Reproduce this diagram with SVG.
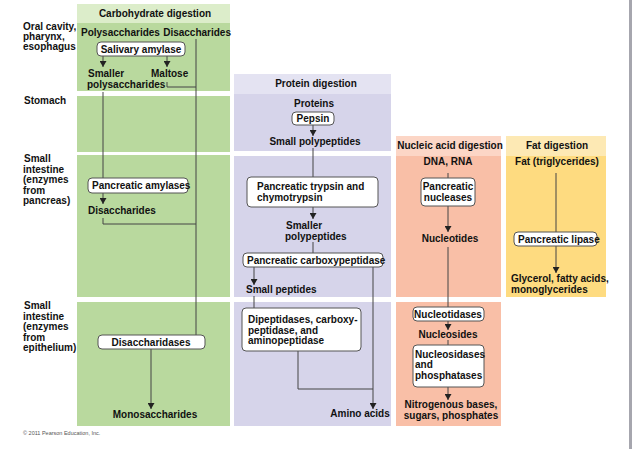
<svg xmlns="http://www.w3.org/2000/svg" width="633" height="449" viewBox="0 0 633 449">
<defs>
<style>
text{font-family:"Liberation Sans",Arial,sans-serif;font-size:10px;font-weight:bold;fill:#111;}
.c{text-anchor:middle;}
.lbl{font-size:10px;}
.box{fill:#fff;stroke:#555;stroke-width:1;}
.ln{fill:none;stroke:#444;stroke-width:1;}
.ar{fill:none;stroke:#444;stroke-width:1;marker-end:url(#ah);}
.gb{fill:#b9d99e;} .gh{fill:#dcedca;}
.pb{fill:#d6d4ea;} .ph{fill:#e4e3f2;}
.nb{fill:#f9bfa7;} .nh{fill:#fcd6c6;}
.fb{fill:#fedb80;} .fh{fill:#fde9b4;}
.copy{font-size:5.5px;font-weight:normal;fill:#555;}
</style>
<marker id="ah" viewBox="0 0 6 7" refX="6" refY="3.5" markerWidth="6" markerHeight="7" markerUnits="userSpaceOnUse" orient="auto">
<path d="M0,0 L6,3.5 L0,7 z" fill="#222"/>
</marker>
</defs>
<rect width="633" height="449" fill="#fff"/>
<rect x="629" y="0" width="3" height="449" fill="#a6a6ae"/>

<g id="columns">
<rect class="gh" x="77" y="4" width="153" height="19"/>
<rect class="gb" x="77" y="23" width="153" height="68"/>
<rect class="gb" x="77" y="96" width="153" height="56"/>
<rect class="gb" x="77" y="155" width="153" height="142"/>
<rect class="gb" x="77" y="302" width="153" height="124"/>
<rect class="ph" x="234" y="74" width="157" height="20"/>
<rect class="pb" x="234" y="94" width="157" height="57"/>
<rect class="pb" x="234" y="156" width="157" height="141"/>
<rect class="pb" x="234" y="302" width="157" height="124"/>
<rect class="nh" x="396" y="136" width="105" height="20"/>
<rect class="nb" x="396" y="156" width="105" height="141"/>
<rect class="nb" x="396" y="302" width="105" height="124"/>
<rect class="fh" x="506" y="136" width="100" height="20"/>
<rect class="fb" x="506" y="156" width="100" height="141"/>
</g>

<g id="row-labels">
<text x="23" y="30" class="lbl">Oral cavity,</text>
<text x="23" y="40" class="lbl">pharynx,</text>
<text x="23" y="50" class="lbl">esophagus</text>
<text x="24" y="104" class="lbl">Stomach</text>
<text x="24" y="162" class="lbl">Small</text>
<text x="23" y="172.5" class="lbl">intestine</text>
<text x="23" y="183" class="lbl">(enzymes</text>
<text x="23" y="193.5" class="lbl">from</text>
<text x="23" y="204" class="lbl">pancreas)</text>
<text x="24" y="309" class="lbl">Small</text>
<text x="23" y="319.5" class="lbl">intestine</text>
<text x="23" y="330" class="lbl">(enzymes</text>
<text x="23" y="340.5" class="lbl">from</text>
<text x="23" y="351" class="lbl">epithelium)</text>
</g>

<g id="headers">
<text x="155" y="17" class="c">Carbohydrate digestion</text>
<text x="316" y="87" class="c">Protein digestion</text>
<text x="450" y="149" class="c">Nucleic acid digestion</text>
<text x="557" y="149" class="c">Fat digestion</text>
</g>

<g id="connectors">
<line class="ln" x1="196" y1="39" x2="196" y2="335"/>
<line class="ar" x1="103" y1="56" x2="103" y2="67"/>
<line class="ar" x1="167" y1="56" x2="167" y2="67"/>
<polyline class="ln" points="167,82 167,87 196,87"/>
<line class="ln" x1="103" y1="92" x2="103" y2="178"/>
<line class="ar" x1="103" y1="193" x2="103" y2="204"/>
<polyline class="ln" points="103,218 103,224 196,224"/>
<line class="ar" x1="151" y1="349" x2="151" y2="409"/>

<line class="ar" x1="313" y1="125" x2="313" y2="136"/>
<line class="ln" x1="313" y1="148" x2="313" y2="177"/>
<line class="ar" x1="313" y1="207" x2="313" y2="219"/>
<line class="ln" x1="313" y1="242" x2="313" y2="253"/>
<line class="ar" x1="254" y1="267" x2="254" y2="285"/>
<line class="ln" x1="254" y1="296" x2="254" y2="308"/>
<line class="ar" x1="373" y1="267" x2="373" y2="409"/>
<polyline class="ln" points="298,351 298,389 373,389"/>

<line class="ln" x1="448" y1="173" x2="448" y2="178"/>
<line class="ar" x1="448" y1="206" x2="448" y2="232"/>
<line class="ln" x1="448" y1="247" x2="448" y2="307"/>
<line class="ar" x1="448" y1="321" x2="448" y2="330"/>
<line class="ln" x1="448" y1="340" x2="448" y2="345"/>
<line class="ar" x1="448" y1="387" x2="448" y2="400"/>

<line class="ln" x1="556" y1="173" x2="556" y2="232"/>
<line class="ar" x1="556" y1="246" x2="556" y2="273"/>
</g>

<g id="carb-nodes">
<text x="81" y="36">Polysaccharides</text>
<text x="231" y="36" text-anchor="end">Disaccharides</text>
<g id="salivary-amylase">
<rect class="box" x="97" y="42" width="88" height="14" rx="4"/>
<text x="141" y="53" class="c">Salivary amylase</text>
</g>
<text x="88" y="77">Smaller</text>
<text x="87" y="88">polysaccharides</text>
<text x="151" y="77">Maltose</text>
<g id="pancreatic-amylases">
<rect class="box" x="88" y="178" width="100" height="15" rx="4"/>
<text x="92" y="189">Pancreatic amylases</text>
</g>
<text x="88" y="214">Disaccharides</text>
<g id="disaccharidases">
<rect class="box" x="98" y="335" width="107" height="14" rx="4"/>
<text x="151" y="345.5" class="c">Disaccharidases</text>
</g>
<text x="155" y="418" class="c">Monosaccharides</text>
</g>

<g id="protein-nodes">
<text x="314" y="107" class="c">Proteins</text>
<g id="pepsin">
<rect class="box" x="292" y="112" width="42" height="13" rx="4"/>
<text x="313" y="122" class="c">Pepsin</text>
</g>
<text x="315" y="145" class="c">Small polypeptides</text>
<g id="trypsin">
<rect class="box" x="247" y="177" width="131" height="30" rx="4"/>
<text x="257" y="190">Pancreatic trypsin and</text>
<text x="257" y="201">chymotrypsin</text>
</g>
<text x="286" y="229">Smaller</text>
<text x="285" y="240">polypeptides</text>
<g id="carboxypeptidase">
<rect class="box" x="243" y="253" width="140" height="14" rx="4"/>
<text x="247" y="263.5">Pancreatic carboxypeptidase</text>
</g>
<text x="246" y="293">Small peptides</text>
<g id="dipeptidases">
<rect class="box" x="242" y="308" width="119" height="43" rx="4"/>
<text x="248" y="323">Dipeptidases, carboxy-</text>
<text x="248" y="333.5">peptidase, and</text>
<text x="248" y="344">aminopeptidase</text>
</g>
<text x="360" y="417" class="c">Amino acids</text>
</g>

<g id="nucleic-nodes">
<text x="448" y="165" class="c">DNA, RNA</text>
<g id="nucleases">
<rect class="box" x="421" y="178" width="54" height="28" rx="4"/>
<text x="448" y="190" class="c">Pancreatic</text>
<text x="448" y="201" class="c">nucleases</text>
</g>
<text x="450" y="242" class="c">Nucleotides</text>
<g id="nucleotidases">
<rect class="box" x="413" y="307" width="71" height="14" rx="4"/>
<text x="448" y="317.5" class="c">Nucleotidases</text>
</g>
<text x="448" y="338" class="c">Nucleosides</text>
<g id="nucleosidases">
<rect class="box" x="413" y="345" width="71" height="42" rx="4"/>
<text x="415" y="357.5">Nucleosidases</text>
<text x="415" y="368">and</text>
<text x="415" y="378.5">phosphatases</text>
</g>
<text x="451" y="408" class="c">Nitrogenous bases,</text>
<text x="451" y="419" class="c">sugars, phosphates</text>
</g>

<g id="fat-nodes">
<text x="557" y="165" class="c">Fat (triglycerides)</text>
<g id="lipase">
<rect class="box" x="514" y="232" width="83" height="14" rx="4"/>
<text x="518" y="242.5">Pancreatic lipase</text>
</g>
<text x="511" y="282">Glycerol, fatty acids,</text>
<text x="511" y="293">monoglycerides</text>
</g>

<text x="23" y="435" class="copy">© 2011 Pearson Education, Inc.</text>
</svg>
